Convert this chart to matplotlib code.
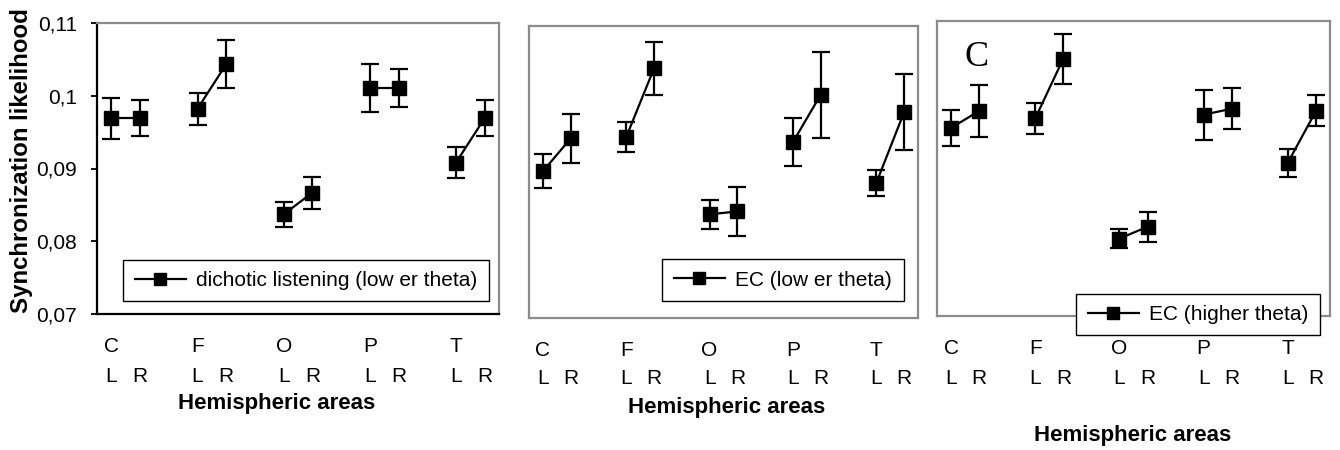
import numpy as np
import matplotlib
matplotlib.use('Agg')
import matplotlib.pyplot as plt
from matplotlib.lines import Line2D

plt.rcParams['font.family'] = ['Liberation Sans', 'DejaVu Sans']

groups = ['C', 'F', 'O', 'P', 'T']
sides = ['L', 'R'] * 5

# panel 1: dichotic listening (lower theta)
dl_mean = [0.0969, 0.0969, 0.0982, 0.1043, 0.0837, 0.0867, 0.1010, 0.1010, 0.0908, 0.0969]
dl_err = [0.0028, 0.0025, 0.0022, 0.0033, 0.0017, 0.0022, 0.0033, 0.0026, 0.0021, 0.0025]
# panel 2: EC (lower theta)
ecl_mean = [0.0901, 0.0946, 0.0948, 0.1042, 0.0842, 0.0846, 0.0941, 0.1006, 0.0885, 0.0982]
ecl_err = [0.0023, 0.0034, 0.0020, 0.0036, 0.0020, 0.0034, 0.0033, 0.0059, 0.0018, 0.0052]
# panel 3: EC (higher theta)
ech_mean = [0.0955, 0.0978, 0.0968, 0.1049, 0.0805, 0.0821, 0.0973, 0.0981, 0.0908, 0.0978]
ech_err = [0.0025, 0.0035, 0.0021, 0.0034, 0.0013, 0.0020, 0.0034, 0.0028, 0.0019, 0.0021]

labels = ['dichotic listening (low er theta)', 'EC (low er theta)', 'EC (higher theta)']
yticks = [0.07, 0.08, 0.09, 0.1, 0.11]
ytick_labels = ['0,07', '0,08', '0,09', '0,1', '0,11']

W, H = 1340, 450
fig = plt.figure(figsize=(13.4, 4.5), dpi=100)

def px_axes(x0, y0, x1, y1):
    return fig.add_axes([x0 / W, 1 - y1 / H, (x1 - x0) / W, (y1 - y0) / H])

idx = np.arange(10)
pos = idx + idx // 2 + 0.5

panels = [
    dict(box=(97, 22.7, 499, 314.3), mean=dl_mean, err=dl_err, leg=(306, 280.5),
         row1=346, row2=377, xl=(277, 404)),
    dict(box=(529, 26, 918, 318), mean=ecl_mean, err=ecl_err, leg=(783, 280),
         row1=350, row2=379, xl=(727, 408)),
    dict(box=(937, 21, 1330, 316), mean=ech_mean, err=ech_err, leg=(1198, 314.5),
         row1=348, row2=378, xl=(1133, 435)),
]

for k, p in enumerate(panels):
    ax = px_axes(*p['box'])
    ax.set_xlim(0, 14)
    ax.set_ylim(0.07, 0.11)
    ax.set_xticks([])
    m = np.array(p['mean'])
    e = np.array(p['err'])
    for g in range(5):
        s = slice(2 * g, 2 * g + 2)
        ax.errorbar(pos[s], m[s], yerr=e[s], fmt='-s', color='k', ms=9.5,
                    lw=1.6, elinewidth=1.6, capsize=6.5, capthick=1.6,
                    clip_on=False)
    for sp in ax.spines.values():
        sp.set_color('#8c8c8c')
        sp.set_linewidth(1.6)
    if k == 0:
        ax.spines['left'].set_color('k')
        ax.spines['bottom'].set_color('k')
        ax.set_yticks(yticks)
        ax.set_yticklabels(ytick_labels, fontsize=15)
        ax.tick_params(axis='y', direction='out', length=4.5, width=1.3, pad=10)
    else:
        ax.set_yticks([])
    # two-row category labels
    for i in range(10):
        xd = pos[i]
        if i % 2 == 0:
            ax.annotate(groups[i // 2], xy=(xd, H - p['row1']),
                        xycoords=('data', 'figure pixels'),
                        ha='center', va='center', fontsize=15)
        ax.annotate(sides[i], xy=(xd, H - p['row2']),
                    xycoords=('data', 'figure pixels'),
                    ha='center', va='center', fontsize=15)
    fig.text(p['xl'][0] / W, 1 - p['xl'][1] / H, 'Hemispheric areas',
             ha='center', va='center', fontsize=16, fontweight='bold')
    h = Line2D([], [], color='k', marker='s', ms=9, lw=1.6)
    leg = ax.legend([h], [labels[k]], loc='center',
                    bbox_to_anchor=(p['leg'][0] / W, 1 - p['leg'][1] / H),
                    bbox_transform=fig.transFigure, fontsize=15,
                    fancybox=False, framealpha=1, edgecolor='k',
                    handlelength=2.45, handletextpad=0.5, borderpad=0.55)
    leg.get_frame().set_linewidth(1.0)
    if k == 2:
        ax.text(977 / W, 1 - 58 / H, 'C', transform=fig.transFigure,
                ha='center', va='center', fontsize=26,
                family='Liberation Serif')

fig.text(22 / W, 1 - 313 / H, 'Synchronization likelihood', rotation=90,
         ha='center', va='bottom', fontsize=17.3, fontweight='bold')

fig.savefig('out.png', dpi=100)
